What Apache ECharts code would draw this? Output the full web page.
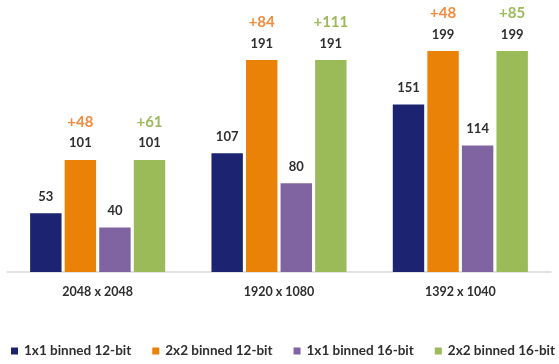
<!DOCTYPE html>
<html><head><meta charset="utf-8">
<script src="https://cdn.jsdelivr.net/npm/echarts@6/dist/echarts.min.js"></script>
<style>html,body{margin:0;padding:0;background:#fff}#c{width:559px;height:364px}</style>
</head><body><div id="c"></div>
<script>
const categories = ['2048 x 2048', '1920 x 1080', '1392 x 1040'];
const seriesNames = ['1x1 binned 12-bit', '2x2 binned 12-bit', '1x1 binned 16-bit', '2x2 binned 16-bit'];
const s1x1_12 = [53, 107, 151];
const s2x2_12 = [101, 191, 199];
const s1x1_16 = [40, 80, 114];
const s2x2_16 = [101, 191, 199];
const gain12 = ['+48', '+84', '+48'];
const gain16 = ['+61', '+111', '+85'];
const colors = ['#1c2371', '#eb8208', '#8063a1', '#9bbb59'];

const FONT = 'Lato, "Open Sans", sans-serif';
const TXT = '#2e2e2e';
function plainLabel() {
  return { show: true, position: 'top', distance: 8.6, fontFamily: FONT, fontWeight: 'bold', fontSize: 13, lineHeight: 16, color: TXT };
}
function gainLabel(gains, col) {
  return {
    show: true, position: 'top', distance: 8.6, fontFamily: FONT,
    formatter: p => '{g|' + gains[p.dataIndex] + '}\n{v|' + p.value + '}',
    rich: {
      g: { fontFamily: FONT, fontWeight: 'bold', fontSize: 15, color: col, lineHeight: 26 },
      v: { fontFamily: FONT, fontWeight: 'bold', fontSize: 13, color: TXT, lineHeight: 16 }
    }
  };
}
const chart = echarts.init(document.getElementById('c'));
chart.setOption({
  animation: false,
  grid: { left: 7, right: 8, top: 50, bottom: 92 },
  legend: {
    left: 11, top: 344, padding: 0, itemWidth: 7, itemHeight: 7, itemGap: 21, icon: 'rect',
    textStyle: { fontFamily: FONT, fontWeight: 'bold', fontSize: 13.5, color: TXT, padding: [0, 0, 0, 1] },
    data: seriesNames
  },
  xAxis: {
    type: 'category', data: categories,
    axisLine: { lineStyle: { color: '#d9d9d9', width: 1.5 } },
    axisTick: { show: false },
    axisLabel: { fontFamily: FONT, fontWeight: 'bold', fontSize: 12.5, color: TXT, margin: 13 }
  },
  yAxis: { type: 'value', min: 0, max: 200, show: false, splitLine: { show: false } },
  series: [
    { name: seriesNames[0], type: 'bar', data: s1x1_12, itemStyle: { color: colors[0] }, label: plainLabel(), barGap: '10%', barCategoryGap: '25.5%' },
    { name: seriesNames[1], type: 'bar', data: s2x2_12, itemStyle: { color: colors[1] }, label: gainLabel(gain12, '#f28b3c') },
    { name: seriesNames[2], type: 'bar', data: s1x1_16, itemStyle: { color: colors[2] }, label: plainLabel() },
    { name: seriesNames[3], type: 'bar', data: s2x2_16, itemStyle: { color: colors[3] }, label: gainLabel(gain16, '#9bbb59') }
  ]
});
</script></body></html>
